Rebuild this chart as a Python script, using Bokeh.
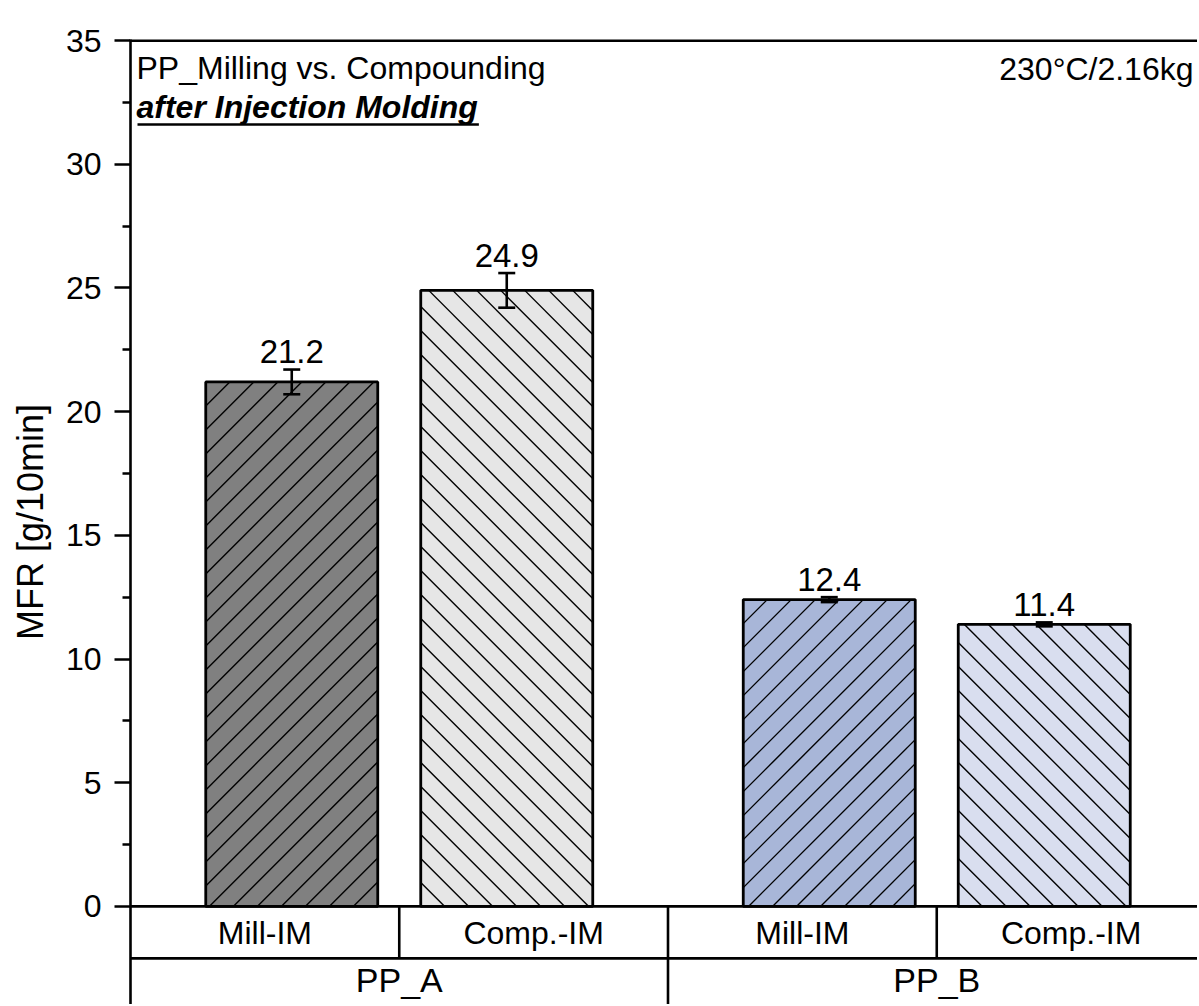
from bokeh.plotting import figure
from bokeh.models import (ColumnDataSource, Range1d, FixedTicker, Span, Label,
                          Whisker, TeeHead)
from bokeh.core.properties import value
from bokeh.embed import file_html
from bokeh.resources import INLINE

# ---- data ----
groups = ["PP_A", "PP_B"]
methods = ["Mill-IM", "Comp.-IM"]
mfr = [21.2, 24.9, 12.4, 11.4]
mfr_err = [0.5, 0.7, 0.1, 0.08]
bar_colors = ["#808080", "#e6e6e6", "#a8b6d8", "#d9deef"]
bar_hatch = ["/", "\\", "/", "\\"]
y_ticks = [0, 5, 10, 15, 20, 25, 30, 35]
y_minor = [2.5, 7.5, 12.5, 17.5, 22.5, 27.5, 32.5]
title_text = "PP_Milling vs. Compounding"
subtitle_text = "after Injection Molding"
cond_text = "230°C/2.16kg"
y_label = "MFR [g/10min]"

FONT = "Liberation Sans"

# bar positions: two bars per group, gap between groups
xpos = []
cats = []
for gi, g in enumerate(groups):
    for mi, m in enumerate(methods):
        xpos.append(1 + gi * 2.5 + mi)
        cats.append((g, m))
BAR_W = 0.8

px_x = 215.0      # pixels per x unit
px_y = 24.74      # pixels per y unit
W, H = 1197, 1004
left, top = 130, 39
x0 = 0.25
x1 = x0 + (W - left) / px_x
y1 = 35 + 1.0 / px_y
y0 = y1 - (H - top) / px_y

p = figure(width=W, height=H, output_backend="svg", toolbar_location=None,
           x_range=Range1d(x0, x1), y_range=Range1d(y0, y1),
           min_border_left=left, min_border_right=0, min_border_top=top,
           min_border_bottom=0)
p.outline_line_color = None
p.xgrid.visible = False
p.ygrid.visible = False
p.xaxis.visible = False
p.background_fill_color = "white"
p.border_fill_color = "white"

yax = p.yaxis[0]
yax.ticker = FixedTicker(ticks=y_ticks, minor_ticks=y_minor)
yax.axis_label = y_label
yax.axis_label_text_font = FONT
yax.axis_label_text_font_size = "36px"
yax.axis_label_text_font_style = "normal"
yax.axis_label_text_color = "black"
yax.axis_label_standoff = 12
yax.major_label_text_font = FONT
yax.major_label_text_font_size = "32px"
yax.major_label_text_color = "black"
yax.major_label_standoff = 13
yax.axis_line_width = 2.6
yax.axis_line_color = "black"
yax.major_tick_line_width = 2.6
yax.minor_tick_line_width = 2.6
yax.major_tick_line_color = "black"
yax.minor_tick_line_color = "black"
yax.major_tick_out = 16
yax.major_tick_in = 0
yax.minor_tick_out = 8
yax.minor_tick_in = 0

# bars (fill only first)
src = ColumnDataSource(dict(x=xpos, top=mfr, color=bar_colors,
                            upper=[v + e for v, e in zip(mfr, mfr_err)],
                            lower=[v - e for v, e in zip(mfr, mfr_err)],
                            lbl_y=[v + e + 18 / px_y for v, e in zip(mfr, mfr_err)],
                            lbl=[f"{v:.1f}" for v in mfr]))
p.vbar(x="x", top="top", bottom=0, width=BAR_W, source=src,
       fill_color="color", line_color=None)

# hatch lines computed from bar geometry (45 degrees in screen space)
step = 24.0
hx0, hy0, hx1, hy1 = [], [], [], []
for xc, v, pat in zip(xpos, mfr, bar_hatch):
    uL = (xc - BAR_W / 2 - x0) * px_x
    uR = (xc + BAR_W / 2 - x0) * px_x
    wT = v * px_y
    if pat == "/":
        c = uL - wT
        while c < uR:
            lo = max(uL, c)
            hi = min(uR, c + wT)
            if hi > lo:
                hx0.append(lo); hy0.append(lo - c)
                hx1.append(hi); hy1.append(hi - c)
            c += step
    else:
        c = uL + step
        while c < uR + wT:
            lo = max(uL, c - wT)
            hi = min(uR, c)
            if hi > lo:
                hx0.append(lo); hy0.append(c - lo)
                hx1.append(hi); hy1.append(c - hi)
            c += step
p.segment(x0=[x0 + u / px_x for u in hx0], y0=[w / px_y for w in hy0],
          x1=[x0 + u / px_x for u in hx1], y1=[w / px_y for w in hy1],
          line_color="black", line_width=1.4)

# bar outlines
p.vbar(x="x", top="top", bottom=0, width=BAR_W, source=src,
       fill_color=None, line_color="black", line_width=2.8)

wh = Whisker(source=src, base="x", upper="upper", lower="lower",
             dimension="height", line_width=2.6, line_color="black",
             upper_head=TeeHead(size=17, line_width=2.6, line_color="black"),
             lower_head=TeeHead(size=17, line_width=2.6, line_color="black"),
             level="annotation")
p.add_layout(wh)

p.text(x="x", y="lbl_y", text="lbl", source=src, text_align="center",
       text_baseline="middle", text_font=value(FONT),
       text_font_size="33px", text_color="black")

# frame lines: top, zero, table row
for yy in [35, 0]:
    p.add_layout(Span(location=yy, dimension="width", line_color="black",
                      line_width=2.8))
row_y = -(958 - 906) / px_y
p.add_layout(Span(location=row_y, dimension="width", line_color="black",
                  line_width=2.6))

# table dividers
mids = [(xpos[i] + xpos[i + 1]) / 2 for i in range(len(xpos) - 1)]
seg_x, seg_y0, seg_y1 = [], [], []
for i, m in enumerate(mids):
    seg_x.append(m)
    seg_y0.append(0)
    seg_y1.append(row_y if i != 1 else y0 - 1)
p.segment(x0=seg_x, y0=seg_y0, x1=seg_x, y1=seg_y1, line_color="black",
          line_width=2.6)

# table labels
right_end = xpos[-1] + (xpos[0] - x0)
bounds = [x0] + mids + [right_end]
cell_cx = [(bounds[i] + bounds[i + 1]) / 2 for i in range(len(xpos))]
p.text(x=cell_cx, y=[-(933 - 906) / px_y] * len(xpos),
       text=[c[1] for c in cats], text_align="center",
       text_baseline="middle", text_font=value(FONT),
       text_font_size="32px", text_color="black")
grp_cx = [(x0 + mids[1]) / 2, (mids[1] + right_end) / 2]
p.text(x=grp_cx, y=[-(980 - 906) / px_y] * 2, text=groups,
       text_align="center", text_baseline="middle",
       text_font=value(FONT), text_font_size="34px", text_color="black")

# annotations
def ydata(py):
    return 35 - (py - 40) / px_y

def xdata(pxx):
    return x0 + (pxx - 130) / px_x

p.add_layout(Label(x=xdata(136), y=ydata(67), text=title_text,
                   text_font=FONT, text_font_size="32px", text_color="black",
                   text_baseline="middle", text_align="left"))
p.add_layout(Label(x=xdata(136), y=ydata(106), text=subtitle_text,
                   text_font=FONT, text_font_size="32px", text_color="black",
                   text_font_style="bold italic",
                   text_baseline="middle", text_align="left"))
sub_w = 10.668 * 32
p.segment(x0=[xdata(137)], y0=[ydata(124)], x1=[xdata(137 + sub_w)],
          y1=[ydata(124)], line_color="black", line_width=2.6)
p.add_layout(Label(x=xdata(1193), y=ydata(68), text=cond_text,
                   text_font=FONT, text_font_size="32px", text_color="black",
                   text_baseline="middle", text_align="right"))

open("out.html", "w").write(file_html(p, INLINE))
